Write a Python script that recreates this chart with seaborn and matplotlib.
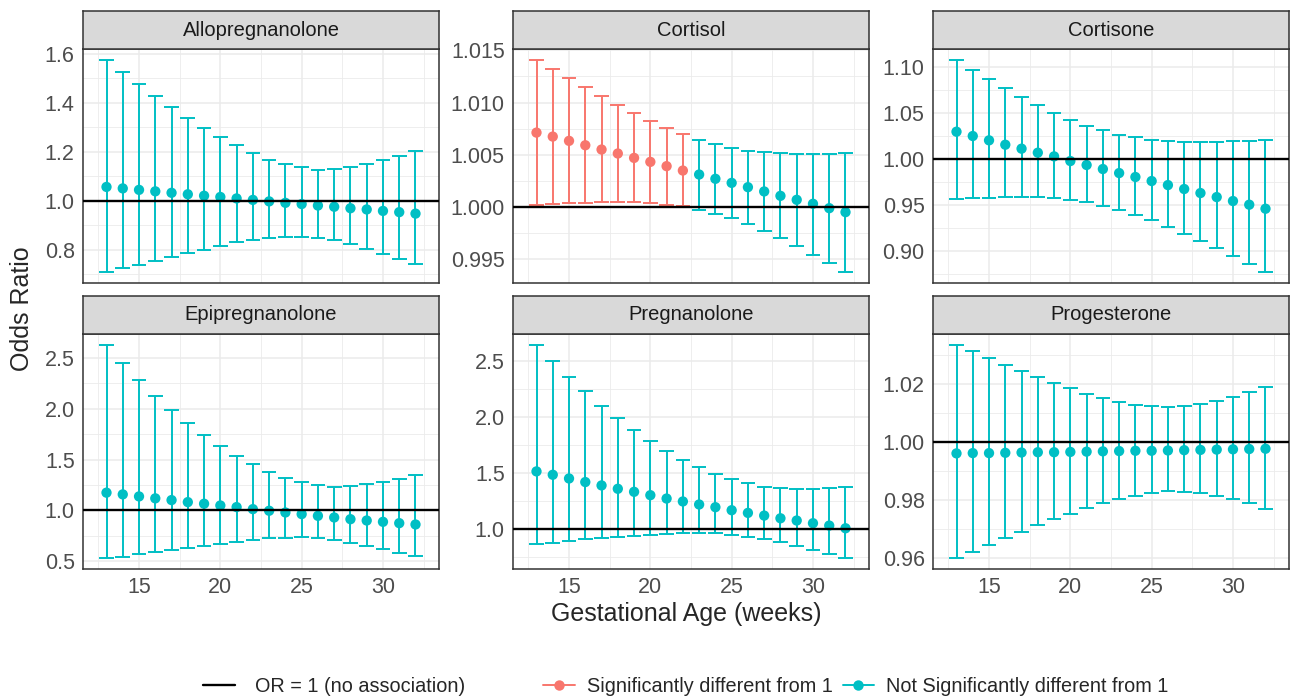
import numpy as np
import pandas as pd
import matplotlib
matplotlib.use("Agg")
import matplotlib.pyplot as plt
import seaborn as sns
from matplotlib.lines import Line2D
from matplotlib.ticker import MultipleLocator, AutoMinorLocator, FormatStrFormatter

# --- DATA ---
weeks = list(range(13, 33))

allo_or = [1.056, 1.050, 1.044, 1.038, 1.032, 1.026, 1.020, 1.015, 1.009, 1.003,
           0.997, 0.991, 0.986, 0.980, 0.975, 0.969, 0.964, 0.958, 0.953, 0.947]
allo_lo = [0.707, 0.724, 0.739, 0.755, 0.770, 0.785, 0.800, 0.814, 0.829, 0.841,
           0.848, 0.853, 0.853, 0.849, 0.838, 0.822, 0.804, 0.784, 0.763, 0.740]
allo_hi = [1.576, 1.527, 1.475, 1.426, 1.381, 1.339, 1.298, 1.261, 1.226, 1.195,
           1.167, 1.150, 1.136, 1.127, 1.128, 1.136, 1.148, 1.165, 1.184, 1.204]

cortisol_or = [1.00713, 1.00675, 1.00634, 1.00592, 1.00551, 1.00513, 1.00471, 1.00433, 1.00392, 1.00350,
               1.00312, 1.00271, 1.00232, 1.00191, 1.00150, 1.00108, 1.00070, 1.00032, 0.99990, 0.99952]
cortisol_lo = [1.00019, 1.00029, 1.00035, 1.00041, 1.00048, 1.00048, 1.00048, 1.00035, 1.00025, 1.00010,
               0.99975, 0.99939, 0.99892, 0.99834, 0.99774, 0.99701, 0.99627, 0.99545, 0.99462, 0.99376]
cortisol_hi = [1.01411, 1.01322, 1.01232, 1.01146, 1.01061, 1.00981, 1.00901, 1.00828, 1.00761, 1.00697,
               1.00646, 1.00602, 1.00570, 1.00541, 1.00529, 1.00519, 1.00510, 1.00510, 1.00513, 1.00519]
cortisol_sig = [True] * 10 + [False] * 10

cortisone_or = [1.0298, 1.0251, 1.0204, 1.0156, 1.0113, 1.0069, 1.0029, 0.9978, 0.9935, 0.9891,
                0.9847, 0.9804, 0.9760, 0.9716, 0.9673, 0.9629, 0.9585, 0.9542, 0.9502, 0.9458]
cortisone_lo = [0.9564, 0.9571, 0.9578, 0.9582, 0.9582, 0.9582, 0.9571, 0.9553, 0.9527, 0.9491,
                0.9447, 0.9393, 0.9331, 0.9262, 0.9185, 0.9109, 0.9025, 0.8942, 0.8855, 0.8764]
cortisone_hi = [1.1084, 1.0975, 1.0873, 1.0771, 1.0680, 1.0585, 1.0502, 1.0429, 1.0364, 1.0313,
                1.0265, 1.0236, 1.0211, 1.0196, 1.0189, 1.0185, 1.0189, 1.0196, 1.0200, 1.0211]

epi_or = [1.175, 1.158, 1.138, 1.119, 1.102, 1.082, 1.066, 1.049, 1.033, 1.013,
          0.997, 0.980, 0.964, 0.947, 0.931, 0.914, 0.901, 0.888, 0.875, 0.862]
epi_lo = [0.529, 0.545, 0.568, 0.588, 0.611, 0.634, 0.654, 0.674, 0.694, 0.713,
          0.727, 0.733, 0.736, 0.727, 0.710, 0.684, 0.654, 0.621, 0.585, 0.552]
epi_hi = [2.631, 2.453, 2.285, 2.127, 1.988, 1.856, 1.738, 1.633, 1.537, 1.455,
          1.379, 1.316, 1.277, 1.250, 1.234, 1.237, 1.257, 1.280, 1.310, 1.349]

preg_or = [1.516, 1.486, 1.453, 1.421, 1.391, 1.361, 1.334, 1.304, 1.274, 1.248,
           1.221, 1.197, 1.170, 1.146, 1.122, 1.098, 1.078, 1.054, 1.033, 1.009]
preg_lo = [0.869, 0.878, 0.896, 0.911, 0.922, 0.934, 0.943, 0.952, 0.961, 0.967,
           0.967, 0.964, 0.952, 0.934, 0.914, 0.887, 0.851, 0.815, 0.779, 0.741]
preg_hi = [2.646, 2.500, 2.357, 2.229, 2.103, 1.993, 1.889, 1.790, 1.701, 1.620,
           1.555, 1.495, 1.444, 1.409, 1.379, 1.364, 1.358, 1.358, 1.364, 1.373]

prog_or = [0.9961, 0.9962, 0.9962, 0.9963, 0.9964, 0.9965, 0.9965, 0.9966, 0.9967, 0.9968,
           0.9969, 0.9970, 0.9970, 0.9971, 0.9972, 0.9973, 0.9974, 0.9975, 0.9976, 0.9977]
prog_lo = [0.9600, 0.9623, 0.9646, 0.9669, 0.9692, 0.9713, 0.9734, 0.9754, 0.9772, 0.9791,
           0.9805, 0.9816, 0.9825, 0.9830, 0.9829, 0.9824, 0.9816, 0.9803, 0.9790, 0.9771]
prog_hi = [1.0335, 1.0312, 1.0290, 1.0266, 1.0245, 1.0223, 1.0203, 1.0185, 1.0167, 1.0152,
           1.0139, 1.0129, 1.0123, 1.0121, 1.0123, 1.0130, 1.0141, 1.0155, 1.0172, 1.0191]

hormones = ["Allopregnanolone", "Cortisol", "Cortisone",
            "Epipregnanolone", "Pregnanolone", "Progesterone"]

frames = []
for name, est, lo, hi, sig in [
        ("Allopregnanolone", allo_or, allo_lo, allo_hi, [False] * 20),
        ("Cortisol", cortisol_or, cortisol_lo, cortisol_hi, cortisol_sig),
        ("Cortisone", cortisone_or, cortisone_lo, cortisone_hi, [False] * 20),
        ("Epipregnanolone", epi_or, epi_lo, epi_hi, [False] * 20),
        ("Pregnanolone", preg_or, preg_lo, preg_hi, [False] * 20),
        ("Progesterone", prog_or, prog_lo, prog_hi, [False] * 20)]:
    frames.append(pd.DataFrame({"hormone": name, "week": weeks, "OR": est,
                                "lower": lo, "upper": hi, "sig": sig}))
df = pd.concat(frames, ignore_index=True)
df["group"] = np.where(df["sig"], "Significantly different from 1",
                       "Not Significantly different from 1")

# --- STYLE ---
sns.set_style("white")
plt.rcParams['font.family'] = ['Liberation Sans', 'DejaVu Sans']

RED, TEAL = "#F8766D", "#00BFC4"
palette = {"Significantly different from 1": RED,
           "Not Significantly different from 1": TEAL}
GRID = "#EBEBEB"
BORDER = "#333333"
CAP = 0.45

# tick step / decimals per panel (ggplot-like labels)
tick_fmt = {"Allopregnanolone": (0.2, 1), "Cortisol": (0.005, 3), "Cortisone": (0.05, 2),
            "Epipregnanolone": (0.5, 1), "Pregnanolone": (0.5, 1), "Progesterone": (0.02, 2)}

W, H = 1290, 698
fig = plt.figure(figsize=(W / 100, H / 100), dpi=100)

col_left = [83, 513, 933]
panel_w = 356
row_top = [49, 334]
panel_h = [234, 235]
strip_h = 38

xlo, xhi = weeks[0] - CAP, weeks[-1] + CAP
xpad = 0.05 * (xhi - xlo)

for i, name in enumerate(hormones):
    r, c = divmod(i, 3)
    left, top = col_left[c], row_top[r]
    ax = fig.add_axes([left / W, 1 - (top + panel_h[r]) / H, panel_w / W, panel_h[r] / H])
    sub = df[df["hormone"] == name]
    cols = sub["group"].map(palette)

    ax.vlines(sub["week"], sub["lower"], sub["upper"], colors=cols, lw=1.4, zorder=2)
    ax.hlines(sub["lower"], sub["week"] - CAP, sub["week"] + CAP, colors=cols, lw=1.4, zorder=2)
    ax.hlines(sub["upper"], sub["week"] - CAP, sub["week"] + CAP, colors=cols, lw=1.4, zorder=2)
    sns.scatterplot(data=sub, x="week", y="OR", hue="group", palette=palette, ax=ax,
                    legend=False, s=55, edgecolor="none", zorder=3)
    ax.axhline(1, color="black", lw=1.7, zorder=4)

    ymin = min(sub["lower"].min(), 1)
    ymax = max(sub["upper"].max(), 1)
    ypad = 0.05 * (ymax - ymin)
    ax.set_ylim(ymin - ypad, ymax + ypad)
    ax.set_xlim(xlo - xpad, xhi + xpad)

    step, dec = tick_fmt[name]
    ax.yaxis.set_major_locator(MultipleLocator(step))
    ax.yaxis.set_major_formatter(FormatStrFormatter(f"%.{dec}f"))
    ax.yaxis.set_minor_locator(AutoMinorLocator(2))
    ax.xaxis.set_major_locator(MultipleLocator(5))
    ax.xaxis.set_minor_locator(AutoMinorLocator(2))
    ax.grid(True, which="major", color=GRID, lw=1.1, zorder=0)
    ax.grid(True, which="minor", color=GRID, lw=0.6, zorder=0)
    ax.set_axisbelow(True)
    ax.set_xlabel("")
    ax.set_ylabel("")
    for sp in ax.spines.values():
        sp.set_color(BORDER)
        sp.set_linewidth(1.1)
    ax.tick_params(which="major", length=4, width=0.9, color=BORDER,
                   labelsize=15.5, labelcolor="#4D4D4D", pad=2)
    ax.tick_params(which="minor", length=0)
    if r == 0:
        ax.tick_params(axis="x", which="both", length=0, labelbottom=False)

    # facet strip
    sax = fig.add_axes([left / W, 1 - top / H, panel_w / W, strip_h / H])
    sax.set_facecolor("#D9D9D9")
    sax.set_xticks([])
    sax.set_yticks([])
    for sp in sax.spines.values():
        sp.set_color(BORDER)
        sp.set_linewidth(1.1)
    sax.text(0.5, 0.5, name, ha="center", va="center", fontsize=14.5, color="#1A1A1A",
             transform=sax.transAxes)

fig.text(686 / W, 1 - 614 / H, "Gestational Age (weeks)", ha="center", va="center", fontsize=18)
fig.text(22 / W, 1 - 309 / H, "Odds Ratio", ha="center", va="center", rotation=90, fontsize=18)

# legends: line key, then colour key
h1 = [Line2D([], [], color="black", lw=1.7)]
fig.legend(h1, ["OR = 1 (no association)"], loc="center left",
           bbox_to_anchor=(203 / W, 1 - 686 / H), frameon=False, fontsize=14.3,
           handlelength=1.6, handletextpad=1.0, borderpad=0, borderaxespad=0)
h2 = [Line2D([], [], color=RED, lw=1.4, marker="o", markersize=7.5, markeredgewidth=0),
      Line2D([], [], color=TEAL, lw=1.4, marker="o", markersize=7.5, markeredgewidth=0)]
fig.legend(h2, ["Significantly different from 1", "Not Significantly different from 1"],
           loc="center left", bbox_to_anchor=(543 / W, 1 - 686 / H), frameon=False, fontsize=14.3,
           ncol=2, handlelength=1.6, handletextpad=0.6, columnspacing=0.5,
           borderpad=0, borderaxespad=0)

fig.savefig("out.png", dpi=100, facecolor="white")
